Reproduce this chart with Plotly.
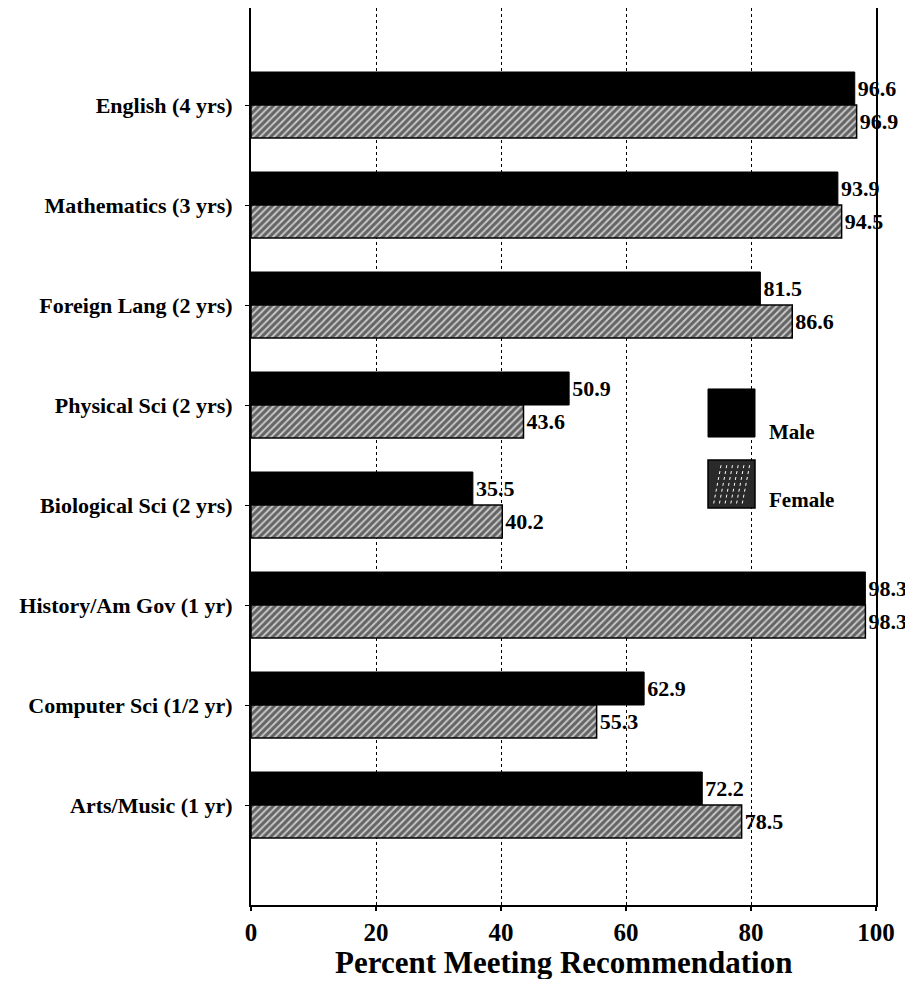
import plotly.graph_objects as go

categories = ["English (4 yrs)", "Mathematics (3 yrs)", "Foreign Lang (2 yrs)",
              "Physical Sci (2 yrs)", "Biological Sci (2 yrs)", "History/Am Gov (1 yr)",
              "Computer Sci (1/2 yr)", "Arts/Music (1 yr)"]
male = [96.6, 93.9, 81.5, 50.9, 35.5, 98.3, 62.9, 72.2]
female = [96.9, 94.5, 86.6, 43.6, 40.2, 98.3, 55.3, 78.5]
x_ticks = [0, 20, 40, 60, 80, 100]
x_title = "Percent Meeting Recommendation"

FONT = "Liberation Serif"
fig = go.Figure()
fig.add_trace(go.Bar(
    y=categories, x=male, orientation="h", name="Male",
    marker=dict(color="black", line=dict(color="black", width=1)),
    text=[f"{v:.1f}" for v in male], textposition="outside", cliponaxis=False,
    textfont=dict(family=FONT, size=22, color="black", weight="bold"),
))
fig.add_trace(go.Bar(
    y=categories, x=female, orientation="h", name="Female",
    marker=dict(color="#c0c0c0", line=dict(color="black", width=1.5),
                pattern=dict(shape="/", fgcolor="black", bgcolor="#c8c8c8",
                             size=5, solidity=0.6)),
    text=[f"{v:.1f}" for v in female], textposition="outside", cliponaxis=False,
    textfont=dict(family=FONT, size=22, color="black", weight="bold"),
))

# legend drawn manually (paper coordinates)
mx0, mx1 = 0.7312, 0.8064
shapes = [
    dict(type="rect", xref="paper", yref="paper", x0=mx0, x1=mx1, y0=0.5217, y1=0.5753,
         fillcolor="black", line=dict(color="black", width=1)),
    dict(type="rect", xref="paper", yref="paper", x0=mx0, x1=mx1, y0=0.4426, y1=0.4961,
         fillcolor="#2a2a2a", line=dict(color="black", width=1.5)),
]
fy0, fy1 = 0.4426, 0.4961
path = ""
for i in range(1, 7):
    f = i / 7
    xs = mx0 + (mx1 - mx0) * f * 0.85
    path += f"M {xs:.4f},{fy0 + 0.005:.4f} L {xs + 0.012:.4f},{fy1 - 0.005:.4f} "
shapes.append(dict(type="path", xref="paper", yref="paper", path=path,
                   line=dict(color="white", width=1, dash="dot")))

annotations = [
    dict(xref="paper", yref="paper", x=0.826, y=0.527, text="Male", showarrow=False,
         xanchor="left", yanchor="middle", font=dict(family=FONT, size=21, color="black", weight="bold")),
    dict(xref="paper", yref="paper", x=0.826, y=0.4515, text="Female", showarrow=False,
         xanchor="left", yanchor="middle", font=dict(family=FONT, size=21, color="black", weight="bold")),
    dict(xref="paper", yref="paper", x=0.5, y=-0.064, text=x_title, showarrow=False,
         xanchor="center", yanchor="middle", font=dict(family=FONT, size=31, color="black", weight="bold")),
]

fig.update_layout(
    width=905, height=971,
    paper_bgcolor="white", plot_bgcolor="white",
    margin=dict(l=243, r=37, t=0, b=74, autoexpand=False),
    barmode="group", bargap=0.34, bargroupgap=0,
    showlegend=False,
    shapes=shapes, annotations=annotations,
    font=dict(family=FONT, size=20, color="black"),
)
fig.update_xaxes(
    range=[0, 100], tickvals=x_ticks, ticktext=[str(t) for t in x_ticks],
    showgrid=True, gridcolor="black", griddash="dot", gridwidth=1,
    showline=True, linecolor="black", linewidth=2, mirror=True,
    ticks="outside", ticklen=4, tickcolor="black", tickwidth=2,
    tickfont=dict(family=FONT, size=25, color="black", weight="bold"),
    zeroline=False,
)
fig.update_yaxes(
    categoryorder="array", categoryarray=categories, autorange=False, range=[8.0, -0.97],
    showline=True, linecolor="black", linewidth=2, mirror=True,
    showgrid=False, ticks="outside", ticklen=4, tickcolor="black", tickwidth=1,
    ticklabelstandoff=8,
    tickfont=dict(family=FONT, size=22, color="black", weight="bold"),
)
fig.write_html("out.html")
